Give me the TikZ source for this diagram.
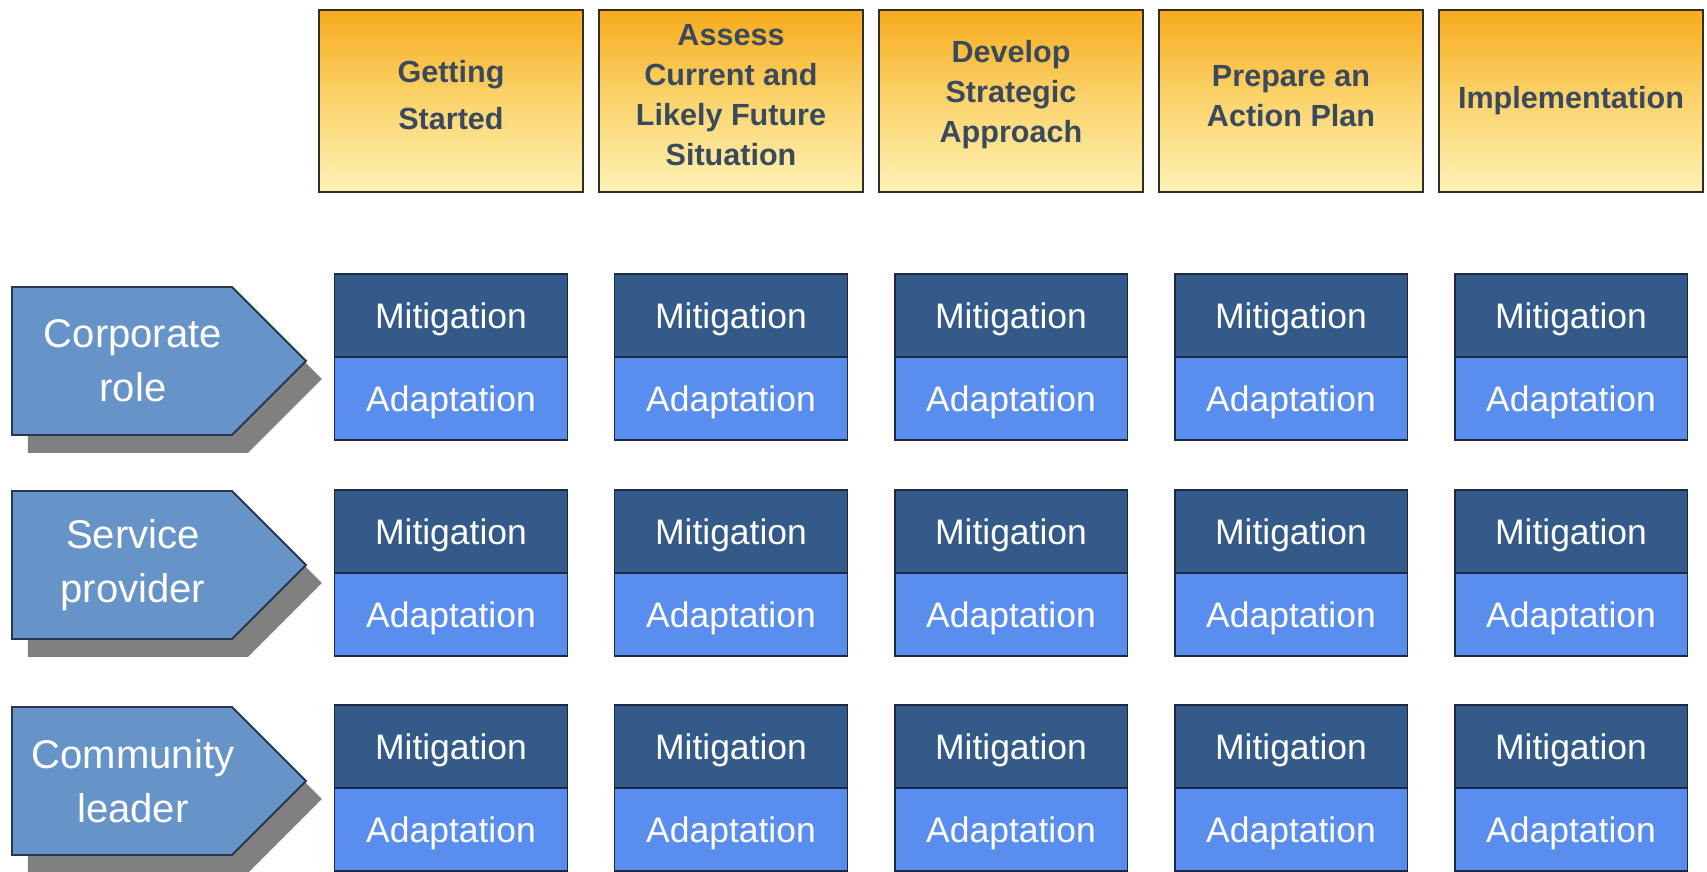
\documentclass[tikz,border=0pt]{standalone}
\usepackage{fontspec}
\setmainfont{Liberation Sans}
\usetikzlibrary{positioning, shapes.symbols, shadows}

\definecolor{phasetop}{RGB}{247,172,28}
\definecolor{phasemid}{RGB}{251,212,110}
\definecolor{phasebot}{RGB}{254,242,180}
\definecolor{phasetext}{RGB}{58,74,92}
\definecolor{phaseline}{RGB}{50,45,40}
\definecolor{mitigblue}{RGB}{52,90,138}
\definecolor{adaptblue}{RGB}{90,142,238}
\definecolor{cellline}{RGB}{28,40,70}
\definecolor{roleblue}{RGB}{102,148,200}
\definecolor{roleline}{RGB}{40,55,80}
\definecolor{roleshadow}{RGB}{128,128,128}

\begin{document}
\begin{tikzpicture}[
        x=0.02cm, y=-0.02cm,
        phase/.style={
            % The shape:
            rectangle,
            % The size:
            minimum width=5.28cm, minimum height=3.64cm,
            % The border
            line width=1.1pt,
            draw=phaseline,
            % The filling
            top color=phasetop, bottom color=phasebot, middle color=phasemid
        },
        phasetext/.style={
            % Font
            font=\bfseries\fontsize{17.4}{22.8}\selectfont,
            text=phasetext, align=center
        },
        cell/.style={
            % The shape:
            rectangle, outer sep=0pt,
            % The size:
            minimum width=4.66cm, minimum height=1.66cm,
            text height=14.5pt, text depth=0pt,
            % The border
            line width=1.1pt,
            draw=cellline,
            % Font
            text=white, font=\fontsize{20.2}{24}\selectfont
        },
        mitig/.style={cell, fill=mitigblue},
        adapt/.style={cell, fill=adaptblue},
        role/.style={
            % The shape:
            signal, signal to=east, signal from=nowhere, signal pointer angle=90,
            % The size:
            minimum width=5.88cm, minimum height=2.96cm,
            % The border
            line width=1.1pt,
            draw=roleline,
            % The filling
            fill=roleblue,
            drop shadow={shadow xshift=0.32cm, shadow yshift=-0.36cm, fill=roleshadow, opacity=1}
        },
        roletext/.style={
            % Font
            text=white, align=center, font=\fontsize{22.8}{30.7}\selectfont
        }]

        \useasboundingbox (0,0) rectangle (1707,872);

        \foreach \i/\x/\dy/\xtext in {1/451/0.12/{Getting\\[4pt]Started}, 2/731/0.12/{Assess\\Current and\\Likely Future\\Situation}, 3/1011/0.12/{Develop\\Strategic\\Approach}, 4/1291/0.1/{Prepare an\\Action Plan}, 5/1571/0.0/{Implementation}}
        {
            \node [phase, label={[phasetext, yshift=\dy cm]center:\xtext}] (phase\i) at (\x,101) {};
        }

        \foreach \r/\y/\rtext in {1/361/{Corporate\\role}, 2/565/{Service\\provider}, 3/781/{Community\\leader}}
        {
            \node [role, anchor=west, label={[roletext, xshift=0.22cm]center:\rtext}] (role\r) at (11,\y) {};
        }

        \foreach \r/\y in {1/274, 2/490, 3/705}
        {
            \foreach \c/\x in {1/451, 2/731, 3/1011, 4/1291, 5/1571}
            {
                \node [mitig, anchor=north] (mitig\r\c) at (\x,\y) {Mitigation};
                \node [adapt, below=0pt of mitig\r\c] (adapt\r\c) {Adaptation};
            }
        }

    \end{tikzpicture}
\end{document}
